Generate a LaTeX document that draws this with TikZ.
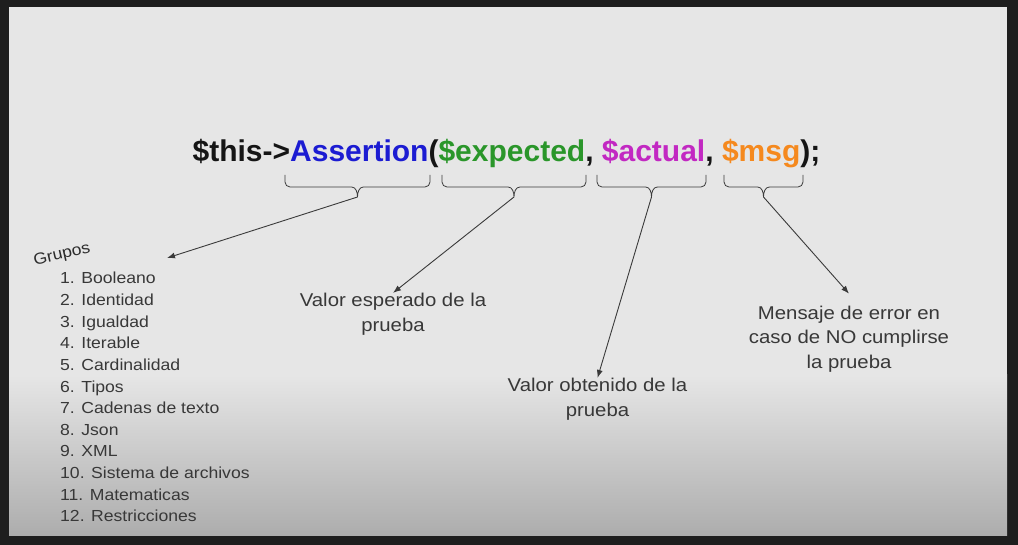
\documentclass[tikz,border=0pt]{standalone}
\usepackage{fontspec}
\setmainfont{Liberation Sans}
\newfontfamily\lblfont[FakeStretch=1.1]{Liberation Sans}
\usepackage{xcolor}
\usetikzlibrary{arrows.meta}
\definecolor{frameblk}{HTML}{1E1E1E}
\definecolor{bgtop}{HTML}{E6E6E6}
\definecolor{bgbot}{HTML}{ADADAD}
\definecolor{codeblk}{HTML}{151515}
\definecolor{asblue}{HTML}{1C1CD2}
\definecolor{asgreen}{HTML}{2A962A}
\definecolor{asmag}{HTML}{C228C2}
\definecolor{asorange}{HTML}{F5891E}
\definecolor{txtgray}{HTML}{383838}
\definecolor{lngray}{HTML}{3A3A3A}

\begin{document}
\begin{tikzpicture}[
  x=1pt, y=-1pt,
  brc/.style={draw=lngray, line width=0.8pt},
  arr/.style={-{Latex[length=8pt,width=6pt]}, draw=lngray, line width=0.9pt},
  lbl/.style={font=\lblfont\fontsize{18.5}{24.5}\selectfont, text=txtgray, align=center, inner sep=0pt},
  item/.style={font=\lblfont\fontsize{16}{20}\selectfont, text=txtgray, anchor=base west, inner sep=0pt},
]
  % frame and slide
  \fill[frameblk] (0,0) rectangle (1018,545);
  \fill[bgtop] (9,7) rectangle (1007,535);
  \shade[top color=bgtop, bottom color=bgbot] (9,375) rectangle (1007,535);

  % the call
  \node[anchor=base, inner sep=0pt, text=codeblk, font=\fontsize{30}{36}\selectfont\bfseries] (call) at (506.5,162)
    {\$this->\textcolor{asblue}{Assertion}(\textcolor{asgreen}{\$expected}, \textcolor{asmag}{\$actual}, \textcolor{asorange}{\$msg});};

  % braces under the arguments
  \foreach \xa/\xb [count=\i] in {285/430, 442/586, 597/706, 724/803} {
    \pgfmathsetmacro\m{(\xa+\xb)/2}
    \draw[brc] (\xa,175) -- (\xa,182) to[out=-90,in=180] (\xa+5,187) -- (\m-6,187)
      to[out=0,in=90] (\m,197) to[out=90,in=180] (\m+6,187) -- (\xb-5,187)
      to[out=0,in=-90] (\xb,182) -- (\xb,175);
    \coordinate (tip\i) at (\m,197);
  }

  % groups
  \node[font=\lblfont\fontsize{16}{20}\selectfont, text=codeblk!90, rotate=13, inner sep=0pt] (grupos) at (62,255) {Grupos};
  \foreach \t [count=\i] in {1. Booleano, 2. Identidad, 3. Igualdad, 4. Iterable, 5. Cardinalidad, 6. Tipos,
      7. Cadenas de texto, 8. Json, 9. XML, 10. Sistema de archivos, 11. Matematicas, 12. Restricciones}
    \node[item] (item\i) at (60,{284+21.6*(\i-1)}) {\t};
  \coordinate (grpend) at (167,258);

  % labels
  \node[lbl] (exp) at (393,314) {Valor esperado de la\\prueba};
  \node[lbl] (act) at (597.5,399) {Valor obtenido de la\\prueba};
  \node[lbl] (msg) at (849,339) {Mensaje de error en\\caso de NO cumplirse\\la prueba};

  \draw[arr] (tip1) -- (grpend);
  \draw[arr] (tip2) -- (exp.north);
  \draw[arr] (tip3) -- (act.north);
  \draw[arr] (tip4) -- ([yshift=12pt]msg.north);
\end{tikzpicture}
\end{document}
